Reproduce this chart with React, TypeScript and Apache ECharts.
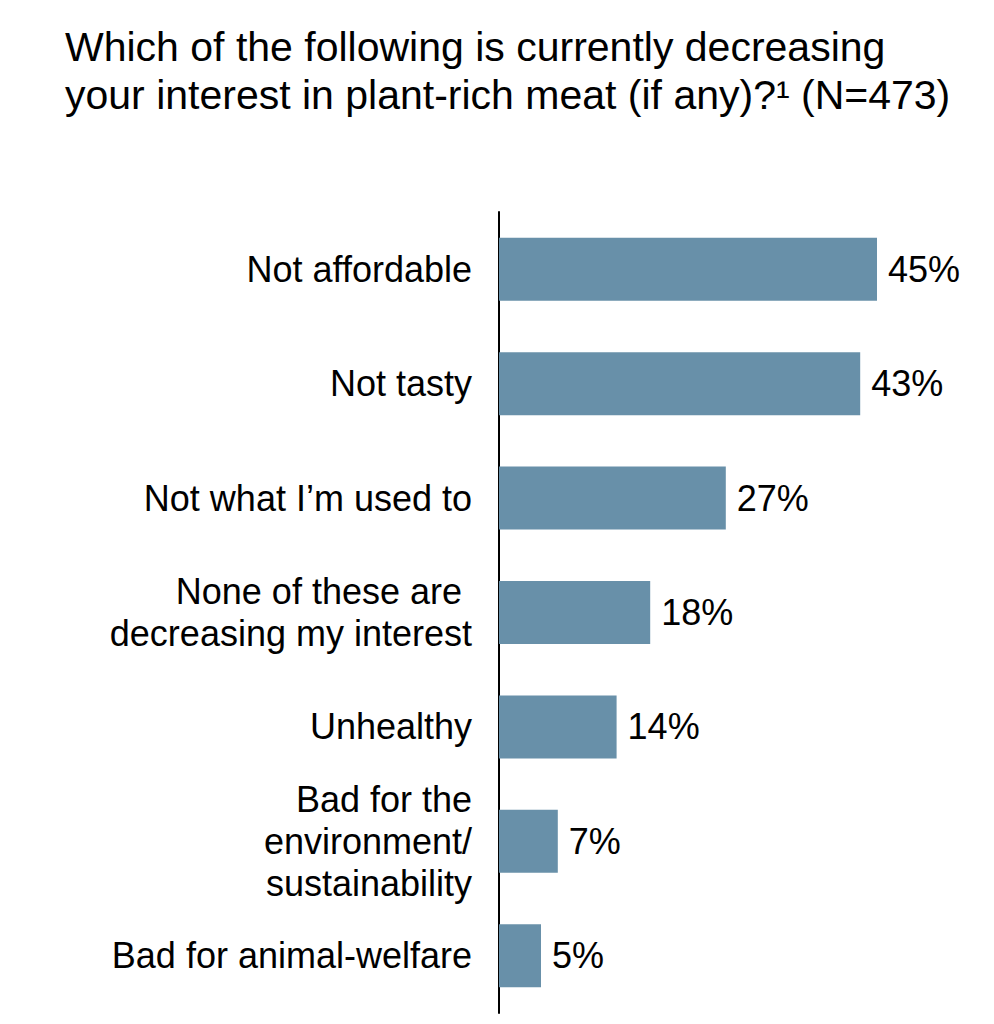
import React, { useEffect, useRef } from "react";
import * as echarts from "echarts";

const TITLE_LINES = [
  "Which of the following is currently decreasing",
  "your interest in plant-rich meat (if any)?¹ (N=473)",
];

const categories = [
  "Not affordable",
  "Not tasty",
  "Not what I’m used to",
  "None of these are \ndecreasing my interest",
  "Unhealthy",
  "Bad for the\nenvironment/\nsustainability",
  "Bad for animal-welfare",
];

const values = [45, 43, 27, 18, 14, 7, 5];

const FONT = '"Liberation Sans", Arial, Helvetica, sans-serif';

export default function App() {
  const ref = useRef<HTMLDivElement>(null);
  useEffect(() => {
    if (!ref.current) return;
    const chart = echarts.init(ref.current, undefined, { renderer: "svg" });
    chart.setOption({
      animation: false,
      backgroundColor: "#ffffff",
      title: {
        text: TITLE_LINES.join("\n"),
        left: 65,
        top: 23,
        padding: 0,
        textStyle: {
          fontFamily: FONT,
          fontSize: 41,
          fontWeight: "normal",
          color: "#000000",
          lineHeight: 48,
        },
      },
      grid: { left: 499, top: 212, bottom: 11, right: 75, containLabel: false },
      xAxis: {
        type: "value",
        min: 0,
        max: 50,
        show: false,
      },
      yAxis: {
        type: "category",
        data: categories,
        inverse: true,
        axisLine: { show: true, lineStyle: { color: "#000000", width: 2 } },
        axisTick: { show: false },
        splitLine: { show: false },
        axisLabel: {
          margin: 27,
          fontFamily: FONT,
          fontSize: 36,
          lineHeight: 42,
          color: "#000000",
          align: "right",
        },
      },
      series: [
        {
          type: "bar",
          data: values,
          barWidth: 63,
          itemStyle: { color: "#6890a9" },
          label: {
            show: true,
            position: "right",
            distance: 11,
            formatter: "{c}%",
            fontFamily: FONT,
            fontSize: 36,
            color: "#000000",
          },
        },
      ],
    });
    return () => chart.dispose();
  }, []);
  return (
    <div
      ref={ref}
      style={{ position: "absolute", left: 0, top: 0, width: 994, height: 1024 }}
    />
  );
}
